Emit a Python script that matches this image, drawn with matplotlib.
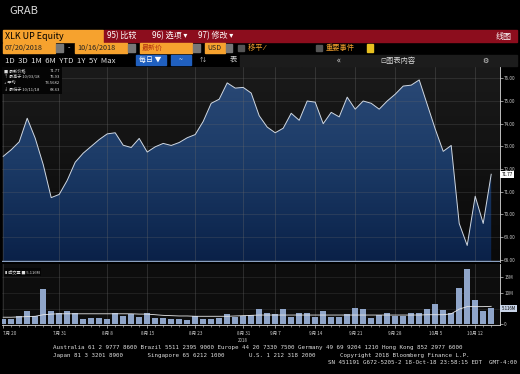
import numpy as np
import matplotlib
matplotlib.use("Agg")
import matplotlib.pyplot as plt
from matplotlib.patches import Rectangle

plt.rcParams['font.family'] = ['Noto Sans CJK SC', 'DejaVu Sans']

#-----------------data----------------
price = [72.56, 72.85, 73.20, 74.24, 73.36, 72.20, 70.74, 70.88, 71.50, 72.30,
         72.70, 73.00, 73.30, 73.55, 73.60, 73.05, 72.95, 73.35, 72.75, 72.98,
         73.13, 73.04, 73.17, 73.38, 73.52, 74.10, 74.90, 75.08, 75.80, 75.57,
         75.60, 75.35, 74.35, 73.85, 73.60, 73.80, 74.46, 74.15, 75.00, 74.95,
         74.00, 74.50, 74.30, 75.17, 74.64, 75.00, 74.90, 74.64, 75.00, 75.30,
         75.66, 75.70, 75.93, 74.85, 73.77, 72.78, 73.04, 69.60, 68.63, 70.80,
         69.60, 71.77]
volume = [1.7, 1.7, 2.7, 4.3, 2.7, 11.3, 4.3, 3.7, 4.3, 3.4,
          1.7, 1.9, 1.9, 1.5, 3.5, 2.5, 3.3, 2.2, 3.7, 1.9,
          1.9, 1.7, 1.7, 1.4, 2.7, 1.7, 1.7, 1.9, 3.2, 2.4,
          2.5, 2.9, 4.8, 3.4, 3.2, 4.8, 2.4, 3.7, 3.4, 2.2,
          4.3, 2.4, 2.4, 3.2, 5.3, 4.8, 2.0, 2.9, 3.7, 2.7,
          2.7, 3.7, 3.4, 5.0, 6.6, 4.6, 3.7, 11.6, 17.6, 7.8,
          4.3, 5.116]
vol_avg = [2.2, 2.2, 2.3, 2.4, 2.5, 3.0, 3.2, 3.3, 3.3, 3.3,
           3.3, 3.3, 3.3, 3.3, 3.3, 3.3, 3.3, 3.2, 3.2, 3.0,
           2.8, 2.7, 2.6, 2.6, 2.5, 2.5, 2.5, 2.5, 2.5, 2.6,
           2.7, 2.8, 2.9, 2.9, 2.9, 2.9, 2.9, 2.9, 2.9, 2.9,
           2.9, 2.9, 2.9, 2.9, 2.9, 2.9, 2.9, 2.9, 2.9, 2.9,
           2.9, 2.9, 2.9, 3.0, 3.0, 3.0, 3.3, 4.8, 5.6, 5.6,
           5.6, 5.7]
tick_idx = [0, 7, 13, 18, 24, 30, 34, 39, 44, 49, 54, 59]
tick_lab = ['7月 20', '7月 31', '8月 8', '8月 15', '8月 23', '8月 31',
            '9月 7', '9月 14', '9月 21', '9月 28', '10月 5', '10月 12']
price_ticks = [68, 69, 70, 71, 72, 73, 74, 75, 76]
vol_ticks = [0, 10, 15]
#-------------------------------------------------------------

W, H = 520, 374
def rect(x0, y0, x1, y1):
    return [x0 / W, 1 - y1 / H, (x1 - x0) / W, (y1 - y0) / H]

fig = plt.figure(figsize=(5.2, 3.74), dpi=100, facecolor='black')

# overlay for the terminal chrome, pixel coords
bg = fig.add_axes([0, 0, 1, 1], zorder=0)
bg.set_xlim(0, W)
bg.set_ylim(H, 0)
bg.axis('off')

bg.text(9, 11, 'GRAB', color='#d8d8d8', fontsize=8, va='center')

ORANGE = '#f6a22e'
bg.add_patch(Rectangle((3, 30), 100, 12, color=ORANGE))
bg.add_patch(Rectangle((104, 30), 413, 12, color='#8c0d1d'))
bg.text(5, 36, 'XLK UP Equity', fontsize=6.4, color='black', va='center')
bg.text(107, 36, '95) 比较', fontsize=5.8, color='white', va='center')
bg.text(152, 36, '96) 选项 ▾', fontsize=5.8, color='white', va='center')
bg.text(198, 36, '97) 修改 ▾', fontsize=5.8, color='white', va='center')
bg.text(512, 36, '线图', fontsize=5.8, color='white', va='center', ha='right')

bg.add_patch(Rectangle((3, 43), 52, 10, color=ORANGE))
bg.text(5, 48, '07/20/2018', fontsize=5.2, color='#222', va='center')
bg.add_patch(Rectangle((56, 44), 7, 8, color='#777'))
bg.text(68, 48, '-', fontsize=5, color='white', va='center')
bg.add_patch(Rectangle((75, 43), 52, 10, color=ORANGE))
bg.text(77, 48, '10/16/2018', fontsize=5.2, color='#222', va='center')
bg.add_patch(Rectangle((128, 44), 7, 8, color='#777'))
bg.add_patch(Rectangle((140, 43), 52, 10, color=ORANGE))
bg.text(142, 48, '最新价', fontsize=5, color='#b03010', va='center')
bg.add_patch(Rectangle((193, 44), 7, 8, color='#777'))
bg.add_patch(Rectangle((205, 43), 20, 10, color=ORANGE))
bg.text(207, 48, 'USD', fontsize=5, color='#222', va='center')
bg.add_patch(Rectangle((226, 44), 6, 8, color='#777'))
bg.add_patch(Rectangle((238, 45), 6, 6, color='#555'))
bg.text(248, 48, '移平 ⁄', fontsize=5.2, color=ORANGE, va='center')
bg.add_patch(Rectangle((316, 45), 6, 6, color='#555'))
bg.text(326, 48, '重要事件', fontsize=5.2, color=ORANGE, va='center')
bg.add_patch(Rectangle((367, 44), 6, 8, color='#e8c020'))

bg.add_patch(Rectangle((240, 55), 277, 11, color='#1c1c1c'))
bg.text(5, 60.5, '1D  3D  1M  6M  YTD  1Y  5Y  Max', fontsize=5.6,
        color='#e0e0e0', va='center')
bg.add_patch(Rectangle((136, 55), 30, 10, color='#2060c0'))
bg.text(139, 60, '每日 ▼', fontsize=5, color='white', va='center')
bg.add_patch(Rectangle((171, 55), 20, 10, color='#2060c0'))
bg.text(181, 60, '~', fontsize=5, color='white', va='center', ha='center')
bg.text(200, 60, '⇅', fontsize=4.5, color='#ccc', va='center')
bg.text(230, 60, '表', fontsize=5.2, color='#ddd', va='center')
bg.text(337, 60.5, '«', fontsize=6, color='#ddd', va='center')
bg.text(380, 60.5, '⊡图表内容', fontsize=5.2, color='#ddd', va='center')
bg.text(482, 60.5, '⚙', fontsize=5, color='#ddd', va='center')

foot1 = ('Australia 61 2 9777 8600 Brazil 5511 2395 9000 Europe 44 20 7330 7500 '
         'Germany 49 69 9204 1210 Hong Kong 852 2977 6000')
foot2 = ('Japan 81 3 3201 8900       Singapore 65 6212 1000       '
         'U.S. 1 212 318 2000       Copyright 2018 Bloomberg Finance L.P.')
foot3 = 'SN 451191 G672-5205-2 18-Oct-18 23:58:15 EDT  GMT-4:00'
for yy, s in [(347, foot1), (355, foot2)]:
    bg.text(53, yy, s, fontsize=4.2, color='#dddddd', family='DejaVu Sans Mono', va='center')
bg.text(517, 363, foot3, fontsize=4.2, color='#dddddd', family='DejaVu Sans Mono',
        va='center', ha='right')

x = np.arange(len(price))
XL = (-0.15, 62.1)

#-------------------------price panel------------------------
ax = fig.add_axes(rect(2, 67, 500, 262), zorder=2)
ax.imshow(np.linspace(0, 1, 100).reshape(-1, 1), cmap=matplotlib.colors.LinearSegmentedColormap.from_list(
    'bgk', ['#1a1a1a', '#0a0a0a']), aspect='auto', extent=[XL[0], XL[1], 67.9, 76.5],
    origin='upper', zorder=0)
poly = ax.fill_between(x, price, 67.9, color='none', zorder=1)
grad = ax.imshow(np.linspace(0, 1, 200).reshape(-1, 1),
                 cmap=matplotlib.colors.LinearSegmentedColormap.from_list(
                     'blu', ['#2b4a77', '#1b3a66', '#0a2148']),
                 aspect='auto', extent=[XL[0], XL[1], 67.9, 76.5], origin='upper', zorder=1)
grad.set_clip_path(poly.get_paths()[0], transform=ax.transData)
ax.plot(x, price, color='#d0d8e2', lw=0.7, zorder=3)
ax.set_xlim(*XL)
ax.set_ylim(67.9, 76.5)

for t in tick_idx:
    ax.axvline(t, color='#6a6a6a', lw=0.4, alpha=0.6, zorder=2)
for p in price_ticks:
    ax.axhline(p, color='#6a6a6a', lw=0.4, alpha=0.45, zorder=2)

ax.yaxis.tick_right()
ax.set_yticks(price_ticks)
ax.set_yticklabels(['%.2f' % p for p in price_ticks])
ax.tick_params(axis='y', colors='#cccccc', labelsize=3.3, length=2, width=0.5, pad=1)
ax.set_xticks([])
for s in ['top', 'left', 'bottom']:
    ax.spines[s].set_visible(False)
ax.spines['right'].set_color('#dddddd')
ax.spines['right'].set_linewidth(0.6)
ax.axhline(67.95, color='#8aa0c0', lw=0.8, zorder=4)

ax.text(1.003, (price[-1] - 67.9) / (76.5 - 67.9), '%.2f' % price[-1], transform=ax.transAxes,
        fontsize=3.3, color='black', va='center', ha='left',
        bbox=dict(boxstyle='square,pad=0.25', fc='white', ec='none'))

leg = ax.inset_axes([0.0, 0.86, 0.12, 0.14], zorder=5)
leg.set_facecolor('#050505')
leg.set_xticks([])
leg.set_yticks([])
for s in leg.spines.values():
    s.set_visible(False)
rows = [('■ 最新价格', '71.77'), ('↑ 最高于 10/03/18', '75.93'),
        ('+ 平均', '73.5682'), ('↓ 最低于 10/11/18', '68.63')]
for i, (a, b) in enumerate(rows):
    yy = 0.86 - i * 0.23
    leg.text(0.04, yy, a, fontsize=3.0, color='#dddddd', va='center')
    leg.text(0.97, yy, b, fontsize=3.0, color='#dddddd', va='center', ha='right')

#-------------------------volume panel-----------------------
av = fig.add_axes(rect(2, 264, 500, 325), zorder=2)
av.set_facecolor('#0d0d0d')
av.set_xlim(*XL)
av.set_ylim(-0.3, 19.3)
for t in tick_idx:
    av.axvline(t, color='#6a6a6a', lw=0.4, alpha=0.6, zorder=0)
for v in [5, 10, 15]:
    av.axhline(v, color='#6a6a6a', lw=0.4, alpha=0.35, zorder=0)
av.bar(x, volume, width=0.78, color='#8fa5c9', zorder=2)
av.plot(x, vol_avg, color='#e8e8e8', lw=0.6, zorder=3)

av.yaxis.tick_right()
av.set_yticks(vol_ticks)
av.set_yticklabels(['0', '10M', '15M'])
av.tick_params(axis='y', colors='#cccccc', labelsize=3.3, length=2, width=0.5, pad=1)
av.set_xticks(tick_idx)
av.set_xticklabels(tick_lab)
av.get_xticklabels()[0].set_horizontalalignment('left')
av.set_xticks(x, minor=True)
av.tick_params(axis='x', which='major', colors='#cccccc', labelsize=3.3, length=2.5,
               width=0.5, pad=1.5)
av.tick_params(axis='x', which='minor', colors='#cccccc', length=1.2, width=0.4)
for s in ['top', 'left']:
    av.spines[s].set_visible(False)
for s in ['right', 'bottom']:
    av.spines[s].set_color('#dddddd')
    av.spines[s].set_linewidth(0.6)
av.text(30, -5.2, '2018', fontsize=3.2, color='#cccccc', ha='center', va='center')
av.text(1.003, (volume[-1] + 0.3) / 19.6, '%.3fM' % volume[-1], transform=av.transAxes,
        fontsize=3.1, color='black', va='center', ha='left',
        bbox=dict(boxstyle='square,pad=0.25', fc='#c8d4e8', ec='none'))
av.text(0.006, 0.87, '▮ 成交量 ■ 5.116M', transform=av.transAxes, fontsize=3.0,
        color='#dddddd', va='center',
        bbox=dict(boxstyle='square,pad=0.3', fc='#050505', ec='none'))

fig.savefig('out.png', dpi=100, facecolor='black')
